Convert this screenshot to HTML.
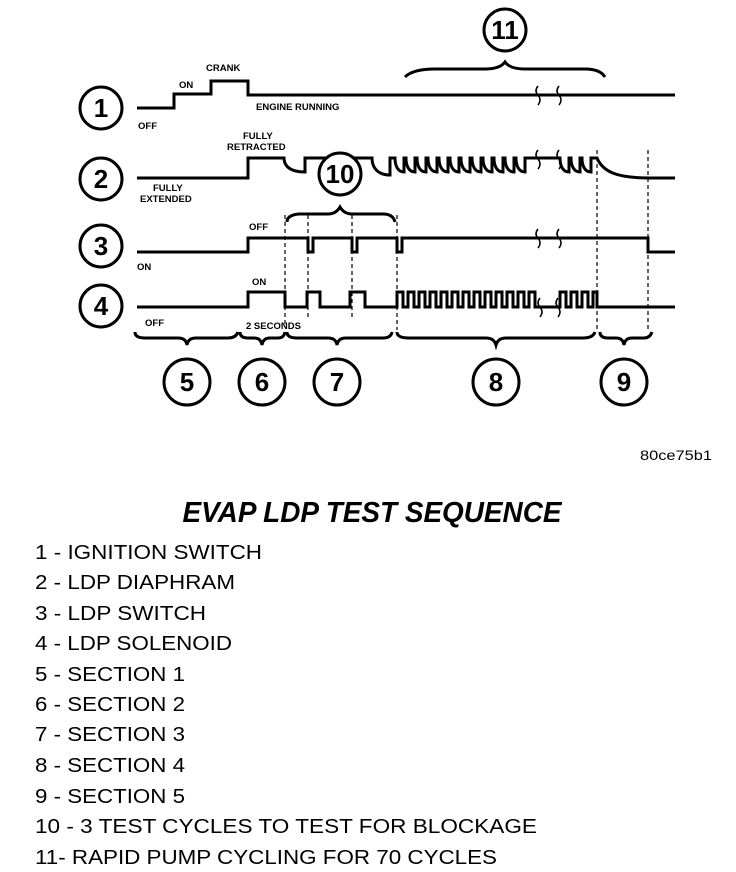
<!DOCTYPE html>
<html><head><meta charset="utf-8"><style>
html,body{margin:0;padding:0;background:#fff;}
svg{display:block;}
.s{fill:none;stroke:#000;stroke-width:3;}
.d{fill:none;stroke:#000;stroke-width:1.2;stroke-dasharray:4,3;}
.c{fill:#fff;stroke:#000;stroke-width:3;}
.n{font-family:"Liberation Sans",sans-serif;font-weight:bold;font-size:26px;text-anchor:middle;}
.l{font-family:"Liberation Sans",sans-serif;font-weight:bold;font-size:9.5px;}
.t{font-family:"Liberation Sans",sans-serif;font-size:20px;}
</style></head><body>
<svg width="736" height="872" viewBox="0 0 736 872" xmlns="http://www.w3.org/2000/svg">
<!-- dashed verticals -->
<path class="d" d="M285,215V325 M308,215V320 M352,215V320 M397,215V330 M597,150V330 M648,150V330"/>
<!-- signal 1 -->
<path class="s" d="M137,108H174V94H211V81H248V95H675"/>
<path fill="none" stroke="#000" stroke-width="1.5" d="M538,86q-4,5 0,9q4,5 0,10 M559,86q-4,5 0,9q4,5 0,10"/>
<!-- signal 2 -->
<path class="s" d="M137,178H248V158H284c0,8 6,14 21,14V158H372c0,10 6,17 18,17V158h5
c0,8 3,14 9,14v-14h2 c0,8 3,14 9,14v-14h2 c0,8 3,14 9,14v-14h2 c0,8 3,14 9,14v-14h2
c0,8 3,14 9,14v-14h2 c0,8 3,14 9,14v-14h2 c0,8 3,14 9,14v-14h2 c0,8 3,14 9,14v-14h2
c0,8 3,14 9,14v-14h2 c0,8 3,14 9,14v-14h2 c0,8 3,14 9,14v-14h2 c0,8 3,14 9,14v-14h2
H560 c0,8 3,14 9,14v-14h2 c0,8 3,14 9,14v-14h2 c0,8 3,14 9,14v-14h2 H597 c6,14 20,20 53,20H675"/>
<path fill="none" stroke="#000" stroke-width="1.5" d="M538,150q-4,5 0,9q4,5 0,10 M559,150q-4,5 0,9q4,5 0,10"/>
<!-- signal 3 -->
<path class="s" d="M137,252H248V238H308V252H313V238H352V252H357V238H397V252H402V238H648V252H675"/>
<path fill="none" stroke="#000" stroke-width="1.5" d="M538,229q-4,5 0,9q4,5 0,10 M559,229q-4,5 0,9q4,5 0,10"/>
<!-- signal 4 -->
<path class="s" d="M137,307H248V292H285V307H307V292H320V307H350V292H365V307H397
v-15h6v15h5 v-15h6v15h5 v-15h6v15h5 v-15h6v15h5 v-15h6v15h5 v-15h6v15h5 v-15h6v15h5
v-15h6v15h5 v-15h6v15h5 v-15h6v15h5 v-15h6v15h5 v-15h6v15h5 v-15h6v15h5
H560 v-15h6v15h5 v-15h6v15h5 v-15h6v15h5 v-15h4v15H675"/>
<path fill="none" stroke="#000" stroke-width="1.5" d="M540,298q-4,5 0,9q4,5 0,10 M558,298q-4,5 0,9q4,5 0,10"/>
<!-- braces bottom -->
<path class="s" d="M135,332q0,6 10,6H178q8,0 9,7q1,-7 9,-7H228q8,0 10,-6"/>
<path class="s" d="M240,332q0,6 8,6H254q7,0 8,7q1,-7 8,-7H278q6,0 7,-6"/>
<path class="s" d="M287,332q0,6 10,6H328q8,0 9,7q1,-7 9,-7H383q8,0 9,-6"/>
<path class="s" d="M397,332q0,6 12,6H486q8,0 10,7q2,-7 10,-7H583q10,0 12,-6"/>
<path class="s" d="M600,332q0,6 8,6H616q7,0 8,7q1,-7 8,-7H644q6,0 8,-6"/>
<!-- brace 10 -->
<path class="s" d="M287,222q0,-7 12,-8H328q8,0 12,-7q4,7 12,7H383q10,0 12,8"/>
<!-- brace 11 -->
<path class="s" stroke-width="4" d="M405,77q8,-8 30,-8H485q15,0 20,-7q5,7 20,7H585q15,0 20,8"/>
<!-- circles -->
<circle class="c" cx="101" cy="108" r="21"/><text class="n" x="101" y="117">1</text>
<circle class="c" cx="101" cy="179" r="21"/><text class="n" x="101" y="188">2</text>
<circle class="c" cx="101" cy="246" r="21"/><text class="n" x="101" y="255">3</text>
<circle class="c" cx="101" cy="306" r="21"/><text class="n" x="101" y="315">4</text>
<circle class="c" cx="340" cy="174" r="21"/><text class="n" x="340" y="183">10</text>
<circle class="c" cx="505" cy="30" r="21"/><text class="n" x="505" y="39">11</text>
<circle class="c" cx="187" cy="382" r="23"/><text class="n" x="187" y="391">5</text>
<circle class="c" cx="262" cy="382" r="23"/><text class="n" x="262" y="391">6</text>
<circle class="c" cx="337" cy="382" r="23"/><text class="n" x="337" y="391">7</text>
<circle class="c" cx="496" cy="382" r="23"/><text class="n" x="496" y="391">8</text>
<circle class="c" cx="624" cy="382" r="23"/><text class="n" x="624" y="391">9</text>
<!-- small labels -->
<text class="l" x="206" y="71">CRANK</text>
<text class="l" x="179" y="88">ON</text>
<text class="l" x="138" y="129">OFF</text>
<text class="l" x="256" y="110">ENGINE RUNNING</text>
<text class="l" x="243" y="139">FULLY</text>
<text class="l" x="227" y="150">RETRACTED</text>
<text class="l" x="153" y="191">FULLY</text>
<text class="l" x="140" y="202">EXTENDED</text>
<text class="l" x="249" y="230">OFF</text>
<text class="l" x="137" y="270">ON</text>
<text class="l" x="252" y="285">ON</text>
<text class="l" x="145" y="326">OFF</text>
<text class="l" x="246" y="329">2 SECONDS</text>
<text x="712" y="460" text-anchor="end" font-family="Liberation Sans,sans-serif" font-size="14" textLength="72" lengthAdjust="spacingAndGlyphs">80ce75b1</text>
<text x="372" y="522" text-anchor="middle" font-family="Liberation Sans,sans-serif" font-weight="bold" font-style="italic" font-size="29" textLength="379" lengthAdjust="spacingAndGlyphs">EVAP LDP TEST SEQUENCE</text>
<g class="t">
<text x="35" y="559" textLength="227" lengthAdjust="spacingAndGlyphs">1 - IGNITION SWITCH</text>
<text x="35" y="589" textLength="200" lengthAdjust="spacingAndGlyphs">2 - LDP DIAPHRAM</text>
<text x="35" y="620" textLength="171" lengthAdjust="spacingAndGlyphs">3 - LDP SWITCH</text>
<text x="35" y="650" textLength="197" lengthAdjust="spacingAndGlyphs">4 - LDP SOLENOID</text>
<text x="35" y="681" textLength="150" lengthAdjust="spacingAndGlyphs">5 - SECTION 1</text>
<text x="35" y="711" textLength="150" lengthAdjust="spacingAndGlyphs">6 - SECTION 2</text>
<text x="35" y="741" textLength="150" lengthAdjust="spacingAndGlyphs">7 - SECTION 3</text>
<text x="35" y="772" textLength="150" lengthAdjust="spacingAndGlyphs">8 - SECTION 4</text>
<text x="35" y="803" textLength="150" lengthAdjust="spacingAndGlyphs">9 - SECTION 5</text>
<text x="35" y="833" textLength="502" lengthAdjust="spacingAndGlyphs">10 - 3 TEST CYCLES TO TEST FOR BLOCKAGE</text>
<text x="35" y="864" textLength="462" lengthAdjust="spacingAndGlyphs">11- RAPID PUMP CYCLING FOR 70 CYCLES</text>
</g>
</svg>
</body></html>
